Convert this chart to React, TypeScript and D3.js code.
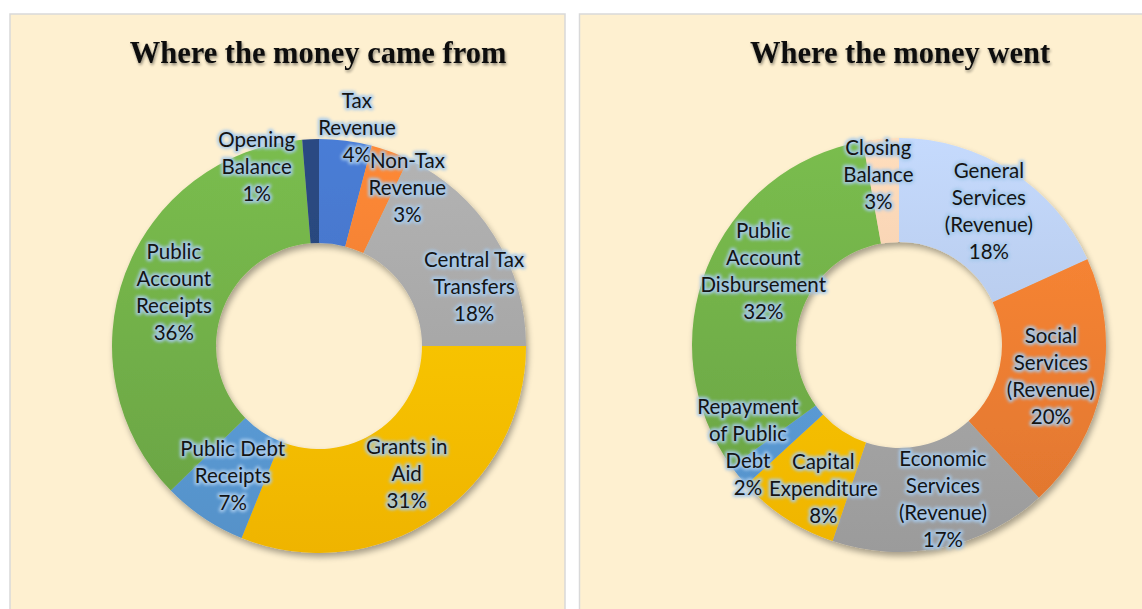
import React from 'react'
import * as d3 from 'd3'

// where the money came from
const incomeNames = ['Tax Revenue', 'Non-Tax Revenue', 'Central Tax Transfers', 'Grants in Aid', 'Public Debt Receipts', 'Public Account Receipts', 'Opening Balance']
const incomeLines = [['Tax', 'Revenue'], ['Non-Tax', 'Revenue'], ['Central Tax', 'Transfers'], ['Grants in', 'Aid'], ['Public Debt', 'Receipts'], ['Public', 'Account', 'Receipts'], ['Opening', 'Balance']]
const incomeValues = [4.1, 3.0, 17.9, 31.1, 6.6, 36.0, 1.3]

// where the money went
const spendNames = ['General Services (Revenue)', 'Social Services (Revenue)', 'Economic Services (Revenue)', 'Capital Expenditure', 'Repayment of Public Debt', 'Public Account Disbursement', 'Closing Balance']
const spendLines = [['General', 'Services', '(Revenue)'], ['Social', 'Services', '(Revenue)'], ['Economic', 'Services', '(Revenue)'], ['Capital', 'Expenditure'], ['Repayment', 'of Public', 'Debt'], ['Public', 'Account', 'Disbursement'], ['Closing', 'Balance']]
const spendValues = [18.2, 20.0, 17.0, 8.0, 1.8, 32.2, 2.8]

const incomeColors = ['#4472C4', '#ED7D31', '#A5A5A5', '#FFC000', '#5B9BD5', '#70AD47', '#264478']
const spendColors = ['#B4C7E7', '#ED7D31', '#A5A5A5', '#FFC000', '#5B9BD5', '#70AD47', '#F8CBAD']

// manual label nudges (excel had these dragged around)
const incomeNudge = [[18, -65], [35, -14], [24, 23], [1, -1], [0, 0], [0, 0], [-56, -25]]
const spendNudge = [[6, -4], [0, 0], [12, 2], [9, 13], [-31, 3], [8, -17], [-7, -17]]

const BG = '#FEF0D0'
const R_OUT = 207
const R_IN = 103
const LINE_H = 27

function Donut({ id, cx, cy, values, lines, colors, nudge, names }) {
  const pie = d3.pie<number>().sort(null).value(d => d).startAngle(0).endAngle(2 * Math.PI)
  const arcs = pie(values)
  const arc = d3.arc<d3.PieArcDatum<number>>().innerRadius(R_IN).outerRadius(R_OUT)
  const total = d3.sum(values)

  return (
    <g transform={`translate(${cx},${cy})`}>
      <defs>
        {colors.map((c, i) => {
          const col = d3.color(c)
          return (
            <linearGradient key={i} id={`${id}-g${i}`} gradientUnits="userSpaceOnUse" x1={0} y1={-R_OUT} x2={0} y2={R_OUT}>
              <stop offset="0%" stopColor={col.brighter(0.25).formatHex()} />
              <stop offset="100%" stopColor={col.darker(0.18).formatHex()} />
            </linearGradient>
          )
        })}
      </defs>
      <g filter="url(#shadow)">
        {arcs.map((a, i) => (
          <path key={names[i]} d={arc(a)} fill={`url(#${id}-g${i})`} />
        ))}
      </g>
      {arcs.map((a, i) => {
        const [x, y] = arc.centroid(a)
        const txt = [...lines[i], `${Math.round((a.data / total) * 100)}%`]
        const x0 = x + nudge[i][0]
        const y0 = y + nudge[i][1] - ((txt.length - 1) * LINE_H) / 2
        return (
          <g key={'l' + i} fontFamily="Lato, 'Open Sans', sans-serif" fontSize={20.5} textAnchor="middle">
            <text x={x0} y={y0} filter="url(#glow)" fill="#A7CAEC" stroke="#A7CAEC" strokeWidth={4.5} strokeLinejoin="round" opacity={0.9}>
              {txt.map((t, j) => (
                <tspan key={j} x={x0} dy={j === 0 ? 0 : LINE_H} dominantBaseline="central">{t}</tspan>
              ))}
            </text>
            <text x={x0} y={y0} fill="#141414">
              {txt.map((t, j) => (
                <tspan key={j} x={x0} dy={j === 0 ? 0 : LINE_H} dominantBaseline="central">{t}</tspan>
              ))}
            </text>
          </g>
        )
      })}
    </g>
  )
}

export default function App() {
  const W = 1142, H = 609
  return (
    <svg width={W} height={H} style={{ position: 'absolute', left: 0, top: 0 }}>
      <defs>
        <filter id="shadow" x="-20%" y="-20%" width="140%" height="140%">
          <feGaussianBlur in="SourceAlpha" stdDeviation="3" />
          <feOffset dx="2" dy="4" result="b" />
          <feComponentTransfer><feFuncA type="linear" slope="0.35" /></feComponentTransfer>
          <feMerge><feMergeNode /><feMergeNode in="SourceGraphic" /></feMerge>
        </filter>
        <filter id="glow" x="-20%" y="-20%" width="140%" height="140%">
          <feGaussianBlur stdDeviation="1.8" />
        </filter>
        <filter id="tshadow" x="-10%" y="-30%" width="120%" height="160%">
          <feGaussianBlur in="SourceAlpha" stdDeviation="1.5" />
          <feOffset dx="1" dy="1.5" />
          <feComponentTransfer><feFuncA type="linear" slope="0.45" /></feComponentTransfer>
          <feMerge><feMergeNode /><feMergeNode in="SourceGraphic" /></feMerge>
        </filter>
      </defs>
      <rect width={W} height={H} fill="#fff" />
      <rect x={10} y={14} width={555} height={620} fill={BG} stroke="#D9D9D9" strokeWidth={1.5} />
      <rect x={579.5} y={14} width={600} height={620} fill={BG} stroke="#D9D9D9" strokeWidth={1.5} />

      <text x={318} y={63} textAnchor="middle" fontFamily="'Liberation Serif', 'Times New Roman', serif" fontWeight="bold" fontSize={30.5} fill="#111" filter="url(#tshadow)">Where the money came from</text>
      <text x={900} y={63} textAnchor="middle" fontFamily="'Liberation Serif', 'Times New Roman', serif" fontWeight="bold" fontSize={30.5} fill="#111" filter="url(#tshadow)">Where the money went</text>

      <Donut id="inc" cx={319} cy={346} values={incomeValues} lines={incomeLines} colors={incomeColors} nudge={incomeNudge} names={incomeNames} />
      <Donut id="exp" cx={899} cy={345} values={spendValues} lines={spendLines} colors={spendColors} nudge={spendNudge} names={spendNames} />
    </svg>
  )
}
